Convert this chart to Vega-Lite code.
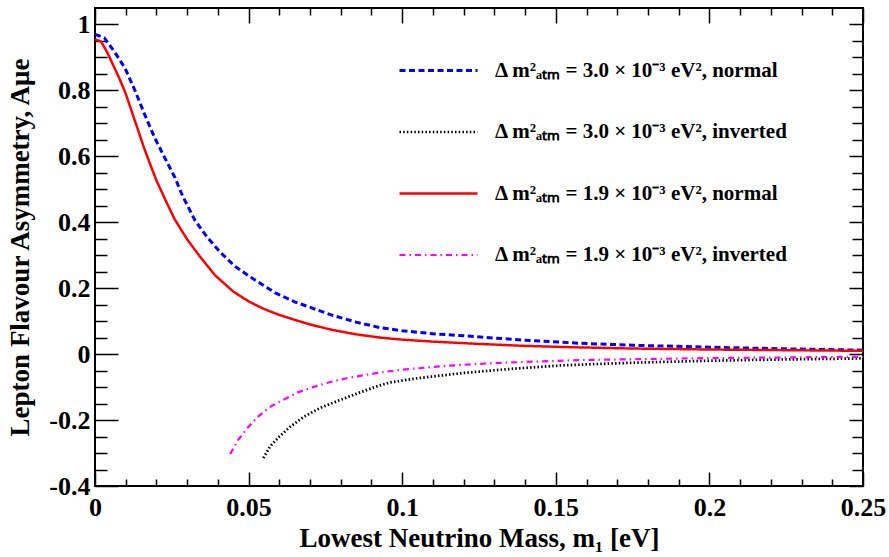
{
  "$schema": "https://vega.github.io/schema/vega-lite/v6.json",
  "width": 768,
  "height": 478,
  "autosize": {"type": "none"},
  "padding": {"left": 95, "top": 8, "right": 26, "bottom": 71},
  "background": "white",
  "config": {
    "view": {"stroke": "black", "strokeWidth": 2},
    "font": "Liberation Serif",
    "axis": {
      "domain": false,
      "grid": false,
      "tickColor": "black",
      "tickWidth": 1.5,
      "labelFont": "Liberation Serif",
      "labelFontWeight": "bold",
      "labelFontSize": 26,
      "labelColor": "black",
      "titleFont": "Liberation Serif",
      "titleFontWeight": "bold",
      "titleFontSize": 27,
      "titleColor": "black"
    }
  },
  "datasets": {
    "curves": [
      {"m": 0.0, "a": 0.97, "s": "Δ m²ₐₜₘ = 3.0 × 10⁻³ eV², normal"},
      {"m": 0.003, "a": 0.96, "s": "Δ m²ₐₜₘ = 3.0 × 10⁻³ eV², normal"},
      {"m": 0.0065, "a": 0.915, "s": "Δ m²ₐₜₘ = 3.0 × 10⁻³ eV², normal"},
      {"m": 0.0098, "a": 0.867, "s": "Δ m²ₐₜₘ = 3.0 × 10⁻³ eV², normal"},
      {"m": 0.013, "a": 0.8, "s": "Δ m²ₐₜₘ = 3.0 × 10⁻³ eV², normal"},
      {"m": 0.0163, "a": 0.724, "s": "Δ m²ₐₜₘ = 3.0 × 10⁻³ eV², normal"},
      {"m": 0.0195, "a": 0.655, "s": "Δ m²ₐₜₘ = 3.0 × 10⁻³ eV², normal"},
      {"m": 0.0228, "a": 0.594, "s": "Δ m²ₐₜₘ = 3.0 × 10⁻³ eV², normal"},
      {"m": 0.026, "a": 0.536, "s": "Δ m²ₐₜₘ = 3.0 × 10⁻³ eV², normal"},
      {"m": 0.0285, "a": 0.48, "s": "Δ m²ₐₜₘ = 3.0 × 10⁻³ eV², normal"},
      {"m": 0.0326, "a": 0.405, "s": "Δ m²ₐₜₘ = 3.0 × 10⁻³ eV², normal"},
      {"m": 0.0365, "a": 0.355, "s": "Δ m²ₐₜₘ = 3.0 × 10⁻³ eV², normal"},
      {"m": 0.0408, "a": 0.309, "s": "Δ m²ₐₜₘ = 3.0 × 10⁻³ eV², normal"},
      {"m": 0.0456, "a": 0.266, "s": "Δ m²ₐₜₘ = 3.0 × 10⁻³ eV², normal"},
      {"m": 0.0522, "a": 0.224, "s": "Δ m²ₐₜₘ = 3.0 × 10⁻³ eV², normal"},
      {"m": 0.0587, "a": 0.186, "s": "Δ m²ₐₜₘ = 3.0 × 10⁻³ eV², normal"},
      {"m": 0.0652, "a": 0.158, "s": "Δ m²ₐₜₘ = 3.0 × 10⁻³ eV², normal"},
      {"m": 0.0766, "a": 0.12, "s": "Δ m²ₐₜₘ = 3.0 × 10⁻³ eV², normal"},
      {"m": 0.085, "a": 0.097, "s": "Δ m²ₐₜₘ = 3.0 × 10⁻³ eV², normal"},
      {"m": 0.093, "a": 0.08, "s": "Δ m²ₐₜₘ = 3.0 × 10⁻³ eV², normal"},
      {"m": 0.1, "a": 0.071, "s": "Δ m²ₐₜₘ = 3.0 × 10⁻³ eV², normal"},
      {"m": 0.11, "a": 0.062, "s": "Δ m²ₐₜₘ = 3.0 × 10⁻³ eV², normal"},
      {"m": 0.1255, "a": 0.052, "s": "Δ m²ₐₜₘ = 3.0 × 10⁻³ eV², normal"},
      {"m": 0.14, "a": 0.042, "s": "Δ m²ₐₜₘ = 3.0 × 10⁻³ eV², normal"},
      {"m": 0.158, "a": 0.033, "s": "Δ m²ₐₜₘ = 3.0 × 10⁻³ eV², normal"},
      {"m": 0.175, "a": 0.027, "s": "Δ m²ₐₜₘ = 3.0 × 10⁻³ eV², normal"},
      {"m": 0.2, "a": 0.021, "s": "Δ m²ₐₜₘ = 3.0 × 10⁻³ eV², normal"},
      {"m": 0.225, "a": 0.016, "s": "Δ m²ₐₜₘ = 3.0 × 10⁻³ eV², normal"},
      {"m": 0.25, "a": 0.012, "s": "Δ m²ₐₜₘ = 3.0 × 10⁻³ eV², normal"},

      {"m": 0.0548, "a": -0.315, "s": "Δ m²ₐₜₘ = 3.0 × 10⁻³ eV², inverted"},
      {"m": 0.057, "a": -0.28, "s": "Δ m²ₐₜₘ = 3.0 × 10⁻³ eV², inverted"},
      {"m": 0.06, "a": -0.25, "s": "Δ m²ₐₜₘ = 3.0 × 10⁻³ eV², inverted"},
      {"m": 0.0636, "a": -0.22, "s": "Δ m²ₐₜₘ = 3.0 × 10⁻³ eV², inverted"},
      {"m": 0.068, "a": -0.19, "s": "Δ m²ₐₜₘ = 3.0 × 10⁻³ eV², inverted"},
      {"m": 0.0733, "a": -0.163, "s": "Δ m²ₐₜₘ = 3.0 × 10⁻³ eV², inverted"},
      {"m": 0.079, "a": -0.142, "s": "Δ m²ₐₜₘ = 3.0 × 10⁻³ eV², inverted"},
      {"m": 0.0854, "a": -0.119, "s": "Δ m²ₐₜₘ = 3.0 × 10⁻³ eV², inverted"},
      {"m": 0.092, "a": -0.097, "s": "Δ m²ₐₜₘ = 3.0 × 10⁻³ eV², inverted"},
      {"m": 0.096, "a": -0.086, "s": "Δ m²ₐₜₘ = 3.0 × 10⁻³ eV², inverted"},
      {"m": 0.105, "a": -0.073, "s": "Δ m²ₐₜₘ = 3.0 × 10⁻³ eV², inverted"},
      {"m": 0.12, "a": -0.057, "s": "Δ m²ₐₜₘ = 3.0 × 10⁻³ eV², inverted"},
      {"m": 0.135, "a": -0.045, "s": "Δ m²ₐₜₘ = 3.0 × 10⁻³ eV², inverted"},
      {"m": 0.152, "a": -0.034, "s": "Δ m²ₐₜₘ = 3.0 × 10⁻³ eV², inverted"},
      {"m": 0.175, "a": -0.026, "s": "Δ m²ₐₜₘ = 3.0 × 10⁻³ eV², inverted"},
      {"m": 0.2, "a": -0.02, "s": "Δ m²ₐₜₘ = 3.0 × 10⁻³ eV², inverted"},
      {"m": 0.225, "a": -0.016, "s": "Δ m²ₐₜₘ = 3.0 × 10⁻³ eV², inverted"},
      {"m": 0.25, "a": -0.013, "s": "Δ m²ₐₜₘ = 3.0 × 10⁻³ eV², inverted"},

      {"m": 0.0, "a": 0.955, "s": "Δ m²ₐₜₘ = 1.9 × 10⁻³ eV², normal"},
      {"m": 0.002, "a": 0.948, "s": "Δ m²ₐₜₘ = 1.9 × 10⁻³ eV², normal"},
      {"m": 0.004, "a": 0.915, "s": "Δ m²ₐₜₘ = 1.9 × 10⁻³ eV², normal"},
      {"m": 0.006, "a": 0.875, "s": "Δ m²ₐₜₘ = 1.9 × 10⁻³ eV², normal"},
      {"m": 0.008, "a": 0.835, "s": "Δ m²ₐₜₘ = 1.9 × 10⁻³ eV², normal"},
      {"m": 0.01, "a": 0.79, "s": "Δ m²ₐₜₘ = 1.9 × 10⁻³ eV², normal"},
      {"m": 0.012, "a": 0.735, "s": "Δ m²ₐₜₘ = 1.9 × 10⁻³ eV², normal"},
      {"m": 0.014, "a": 0.68, "s": "Δ m²ₐₜₘ = 1.9 × 10⁻³ eV², normal"},
      {"m": 0.016, "a": 0.625, "s": "Δ m²ₐₜₘ = 1.9 × 10⁻³ eV², normal"},
      {"m": 0.018, "a": 0.575, "s": "Δ m²ₐₜₘ = 1.9 × 10⁻³ eV², normal"},
      {"m": 0.02, "a": 0.527, "s": "Δ m²ₐₜₘ = 1.9 × 10⁻³ eV², normal"},
      {"m": 0.023, "a": 0.466, "s": "Δ m²ₐₜₘ = 1.9 × 10⁻³ eV², normal"},
      {"m": 0.026, "a": 0.408, "s": "Δ m²ₐₜₘ = 1.9 × 10⁻³ eV², normal"},
      {"m": 0.03, "a": 0.348, "s": "Δ m²ₐₜₘ = 1.9 × 10⁻³ eV², normal"},
      {"m": 0.034, "a": 0.298, "s": "Δ m²ₐₜₘ = 1.9 × 10⁻³ eV², normal"},
      {"m": 0.039, "a": 0.24, "s": "Δ m²ₐₜₘ = 1.9 × 10⁻³ eV², normal"},
      {"m": 0.045, "a": 0.19, "s": "Δ m²ₐₜₘ = 1.9 × 10⁻³ eV², normal"},
      {"m": 0.05, "a": 0.16, "s": "Δ m²ₐₜₘ = 1.9 × 10⁻³ eV², normal"},
      {"m": 0.055, "a": 0.137, "s": "Δ m²ₐₜₘ = 1.9 × 10⁻³ eV², normal"},
      {"m": 0.06, "a": 0.119, "s": "Δ m²ₐₜₘ = 1.9 × 10⁻³ eV², normal"},
      {"m": 0.065, "a": 0.104, "s": "Δ m²ₐₜₘ = 1.9 × 10⁻³ eV², normal"},
      {"m": 0.07, "a": 0.09, "s": "Δ m²ₐₜₘ = 1.9 × 10⁻³ eV², normal"},
      {"m": 0.077, "a": 0.074, "s": "Δ m²ₐₜₘ = 1.9 × 10⁻³ eV², normal"},
      {"m": 0.085, "a": 0.06, "s": "Δ m²ₐₜₘ = 1.9 × 10⁻³ eV², normal"},
      {"m": 0.093, "a": 0.05, "s": "Δ m²ₐₜₘ = 1.9 × 10⁻³ eV², normal"},
      {"m": 0.1, "a": 0.044, "s": "Δ m²ₐₜₘ = 1.9 × 10⁻³ eV², normal"},
      {"m": 0.11, "a": 0.038, "s": "Δ m²ₐₜₘ = 1.9 × 10⁻³ eV², normal"},
      {"m": 0.125, "a": 0.031, "s": "Δ m²ₐₜₘ = 1.9 × 10⁻³ eV², normal"},
      {"m": 0.14, "a": 0.025, "s": "Δ m²ₐₜₘ = 1.9 × 10⁻³ eV², normal"},
      {"m": 0.155, "a": 0.021, "s": "Δ m²ₐₜₘ = 1.9 × 10⁻³ eV², normal"},
      {"m": 0.175, "a": 0.017, "s": "Δ m²ₐₜₘ = 1.9 × 10⁻³ eV², normal"},
      {"m": 0.2, "a": 0.014, "s": "Δ m²ₐₜₘ = 1.9 × 10⁻³ eV², normal"},
      {"m": 0.225, "a": 0.012, "s": "Δ m²ₐₜₘ = 1.9 × 10⁻³ eV², normal"},
      {"m": 0.25, "a": 0.01, "s": "Δ m²ₐₜₘ = 1.9 × 10⁻³ eV², normal"},

      {"m": 0.044, "a": -0.303, "s": "Δ m²ₐₜₘ = 1.9 × 10⁻³ eV², inverted"},
      {"m": 0.0466, "a": -0.26, "s": "Δ m²ₐₜₘ = 1.9 × 10⁻³ eV², inverted"},
      {"m": 0.05, "a": -0.22, "s": "Δ m²ₐₜₘ = 1.9 × 10⁻³ eV², inverted"},
      {"m": 0.053, "a": -0.19, "s": "Δ m²ₐₜₘ = 1.9 × 10⁻³ eV², inverted"},
      {"m": 0.057, "a": -0.16, "s": "Δ m²ₐₜₘ = 1.9 × 10⁻³ eV², inverted"},
      {"m": 0.061, "a": -0.14, "s": "Δ m²ₐₜₘ = 1.9 × 10⁻³ eV², inverted"},
      {"m": 0.066, "a": -0.116, "s": "Δ m²ₐₜₘ = 1.9 × 10⁻³ eV², inverted"},
      {"m": 0.071, "a": -0.1, "s": "Δ m²ₐₜₘ = 1.9 × 10⁻³ eV², inverted"},
      {"m": 0.076, "a": -0.086, "s": "Δ m²ₐₜₘ = 1.9 × 10⁻³ eV², inverted"},
      {"m": 0.0815, "a": -0.074, "s": "Δ m²ₐₜₘ = 1.9 × 10⁻³ eV², inverted"},
      {"m": 0.0874, "a": -0.064, "s": "Δ m²ₐₜₘ = 1.9 × 10⁻³ eV², inverted"},
      {"m": 0.094, "a": -0.054, "s": "Δ m²ₐₜₘ = 1.9 × 10⁻³ eV², inverted"},
      {"m": 0.1, "a": -0.047, "s": "Δ m²ₐₜₘ = 1.9 × 10⁻³ eV², inverted"},
      {"m": 0.115, "a": -0.035, "s": "Δ m²ₐₜₘ = 1.9 × 10⁻³ eV², inverted"},
      {"m": 0.13, "a": -0.027, "s": "Δ m²ₐₜₘ = 1.9 × 10⁻³ eV², inverted"},
      {"m": 0.158, "a": -0.018, "s": "Δ m²ₐₜₘ = 1.9 × 10⁻³ eV², inverted"},
      {"m": 0.2, "a": -0.012, "s": "Δ m²ₐₜₘ = 1.9 × 10⁻³ eV², inverted"},
      {"m": 0.25, "a": -0.008, "s": "Δ m²ₐₜₘ = 1.9 × 10⁻³ eV², inverted"}
    ]
  },
  "layer": [
    {
      "data": {"name": "curves"},
      "mark": {"type": "line", "clip": true},
      "encoding": {
        "x": {
          "field": "m", "type": "quantitative",
          "scale": {"domain": [0, 0.25], "nice": false, "zero": false},
          "axis": {
            "orient": "bottom",
            "values": [0,0.01,0.02,0.03,0.04,0.05,0.06,0.07,0.08,0.09,0.1,0.11,0.12,0.13,0.14,0.15,0.16,0.17,0.18,0.19,0.2,0.21,0.22,0.23,0.24,0.25],
            "format": "~g",
            "labelExpr": "round(datum.value*100) % 5 == 0 ? datum.label : ''",
            "tickSize": {"condition": {"test": "round(datum.value*100) % 5 == 0", "value": -14}, "value": -7},
            "labelPadding": 22,
            "labelFlush": false,
            "title": "Lowest Neutrino Mass, m₁ [eV]",
            "titlePadding": 5
          }
        },
        "y": {
          "field": "a", "type": "quantitative",
          "scale": {"domain": [-0.4, 1.05], "nice": false, "zero": false},
          "axis": {
            "orient": "left",
            "values": [-0.4,-0.35,-0.3,-0.25,-0.2,-0.15,-0.1,-0.05,0,0.05,0.1,0.15,0.2,0.25,0.3,0.35,0.4,0.45,0.5,0.55,0.6,0.65,0.7,0.75,0.8,0.85,0.9,0.95,1.0],
            "format": "~g",
            "labelExpr": "round(datum.value*100) % 20 == 0 ? replace(datum.label, '\u2212', '-') : ''",
            "tickSize": {"condition": {"test": "round(datum.value*100) % 20 == 0", "value": -23}, "value": -12},
            "labelPadding": 28,
            "labelFlush": false,
            "title": "Lepton Flavour Asymmetry, Aμe",
            "titlePadding": 14
          }
        },
        "color": {
          "field": "s", "type": "nominal",
          "scale": {
            "domain": ["Δ m²ₐₜₘ = 3.0 × 10⁻³ eV², normal", "Δ m²ₐₜₘ = 3.0 × 10⁻³ eV², inverted", "Δ m²ₐₜₘ = 1.9 × 10⁻³ eV², normal", "Δ m²ₐₜₘ = 1.9 × 10⁻³ eV², inverted"],
            "range": ["#0000ff", "#000000", "#ff0000", "#ff00ff"]
          },
          "legend": {
            "title": null,
            "orient": "none",
            "legendX": 322,
            "legendY": 41,
            "padding": 0,
            "symbolType": "M-1.95,0L1.95,0",
            "symbolSize": 1600,
            "labelOffset": 35,
            "rowPadding": 29.5,
            "labelFont": "Liberation Serif",
            "labelFontWeight": "bold",
            "labelFontSize": 21,
            "labelColor": "black",
            "labelLimit": 400
          }
        },
        "strokeDash": {
          "field": "s", "type": "nominal",
          "scale": {
            "domain": ["Δ m²ₐₜₘ = 3.0 × 10⁻³ eV², normal", "Δ m²ₐₜₘ = 3.0 × 10⁻³ eV², inverted", "Δ m²ₐₜₘ = 1.9 × 10⁻³ eV², normal", "Δ m²ₐₜₘ = 1.9 × 10⁻³ eV², inverted"],
            "range": [[6, 3.5], [1.5, 2.2], [1, 0], [6, 4, 1.5, 4]]
          }
        },
        "strokeWidth": {
          "field": "s", "type": "nominal",
          "scale": {
            "domain": ["Δ m²ₐₜₘ = 3.0 × 10⁻³ eV², normal", "Δ m²ₐₜₘ = 3.0 × 10⁻³ eV², inverted", "Δ m²ₐₜₘ = 1.9 × 10⁻³ eV², normal", "Δ m²ₐₜₘ = 1.9 × 10⁻³ eV², inverted"],
            "range": [3, 2.2, 3, 3]
          }
        }
      }
    },
    {
      "mark": {"type": "rule", "color": "black", "strokeWidth": 1.3},
      "encoding": {
        "x": {
          "datum": 0, "type": "quantitative",
          "scale": {"domain": [0, 0.25], "nice": false, "zero": false},
          "axis": {
            "orient": "top",
            "values": [0,0.01,0.02,0.03,0.04,0.05,0.06,0.07,0.08,0.09,0.1,0.11,0.12,0.13,0.14,0.15,0.16,0.17,0.18,0.19,0.2,0.21,0.22,0.23,0.24,0.25],
            "labels": false,
            "title": null,
            "tickSize": {"condition": {"test": "round(datum.value*100) % 5 == 0", "value": -15}, "value": -7}
          }
        },
        "x2": {"datum": 0.25},
        "y": {
          "datum": 0, "type": "quantitative",
          "scale": {"domain": [-0.4, 1.05], "nice": false, "zero": false},
          "axis": {
            "orient": "right",
            "values": [-0.4,-0.35,-0.3,-0.25,-0.2,-0.15,-0.1,-0.05,0,0.05,0.1,0.15,0.2,0.25,0.3,0.35,0.4,0.45,0.5,0.55,0.6,0.65,0.7,0.75,0.8,0.85,0.9,0.95,1.0],
            "labels": false,
            "title": null,
            "tickSize": {"condition": {"test": "round(datum.value*100) % 20 == 0", "value": -14}, "value": -11}
          }
        }
      }
    }
  ],
  "resolve": {"axis": {"x": "independent", "y": "independent"}}
}
